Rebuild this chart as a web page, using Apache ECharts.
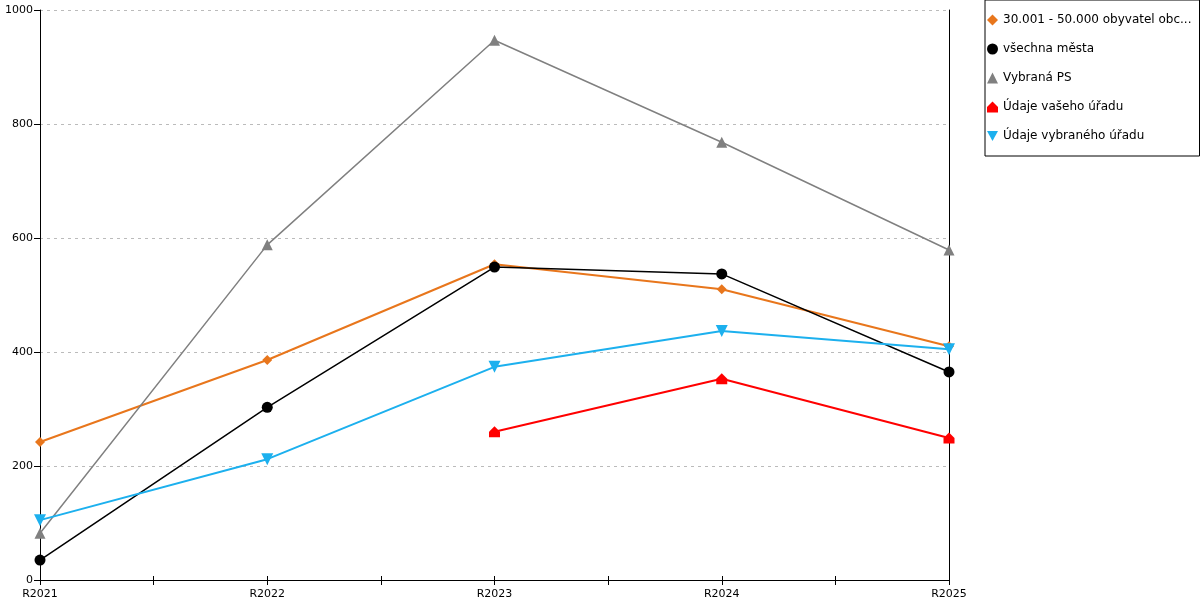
<!DOCTYPE html>
<html>
<head>
<meta charset="utf-8">
<script src="https://cdn.jsdelivr.net/npm/echarts@6/dist/echarts.min.js"></script>
<style>
  html, body { margin: 0; padding: 0; background: #fff; }
  #chart { width: 1200px; height: 600px; }
</style>
</head>
<body>
<div id="chart"></div>
<script>
// kategorie (roky)
var years = ['R2021', 'R2022', 'R2023', 'R2024', 'R2025'];

// hodnoty jednotlivych rad
var obceValues = [242, 386, 554, 510, 410];
var mestaValues = [35, 303, 549, 537, 365];
var vybranaPsValues = [82, 588, 947, 768, 579];
var vasUradValues = [null, null, 260, 353, 249];
var vybranyUradValues = [105, 212, 374, 437, 405];

var seriesNames = [
    '30.001 - 50.000 obyvatel obcí s rozšířenou působností',
    'všechna města',
    'Vybraná PS',
    'Údaje vašeho úřadu',
    'Údaje vybraného úřadu'
];

// pomocne znacky mezi roky (jen pro carky na ose)
var halfSteps = ['', '', '', '', '', '', '', '', ''];

var houseSymbol = 'path://M0,5 L5,0 L10,5 L10,10 L0,10 Z';
var downTriangle = 'path://M0,0 L10,0 L5,9 Z';
var symbols = ['diamond', 'circle', 'triangle', houseSymbol, downTriangle];

function makeSeries(name, data, color, symbol, size, width) {
    return {
        name: name,
        type: 'line',
        data: data,
        symbol: symbol,
        symbolSize: size,
        showAllSymbol: true,
        connectNulls: false,
        lineStyle: { color: color, width: width },
        itemStyle: { color: color },
        emphasis: { disabled: true }
    };
}

function tickAxis(inside, length) {
    return {
        type: 'category',
        data: halfSteps,
        boundaryGap: false,
        position: 'bottom',
        axisLine: { show: false },
        axisLabel: { show: false },
        axisTick: {
            show: true,
            inside: inside,
            length: length,
            interval: 0,
            lineStyle: { color: '#000' }
        },
        splitLine: { show: false }
    };
}

var chart = echarts.init(document.getElementById('chart'));

var option = {
    animation: false,
    textStyle: { fontFamily: 'DejaVu Sans' },
    grid: {
        left: 40,
        right: 251,
        top: 10,
        bottom: 20
    },
    legend: {
        orient: 'vertical',
        left: 985,
        top: 0,
        padding: [14, 8, 14, 2],
        itemWidth: 11,
        itemHeight: 11,
        itemGap: 17,
        itemTextGap: 5,
        borderColor: '#000',
        borderWidth: 1,
        borderRadius: 0,
        textStyle: {
            fontSize: 12,
            color: '#000',
            fontFamily: 'DejaVu Sans',
            width: 190,
            overflow: 'truncate',
            ellipsis: '...'
        },
        data: seriesNames.map(function (name, i) {
            return { name: name, icon: symbols[i] };
        })
    },
    xAxis: [
        {
            type: 'category',
            data: years,
            boundaryGap: false,
            axisLine: { lineStyle: { color: '#000', width: 1 } },
            axisTick: { show: false },
            axisLabel: { color: '#000', fontSize: 11, margin: 9 },
            splitLine: { show: false }
        },
        tickAxis(false, 5),
        tickAxis(true, 4)
    ],
    yAxis: [
        {
            type: 'value',
            min: 0,
            max: 1000,
            interval: 200,
            axisLine: { show: true, lineStyle: { color: '#000' } },
            axisTick: { show: true, length: 6, lineStyle: { color: '#000' } },
            axisLabel: {
                color: '#000',
                fontSize: 11,
                margin: 7,
                formatter: function (v) { return String(v); }
            },
            splitLine: {
                show: true,
                lineStyle: { color: '#bbb', type: [3, 4], width: 1 }
            }
        },
        {
            type: 'value',
            min: 0,
            max: 1000,
            interval: 200,
            position: 'right',
            axisLine: { show: true, lineStyle: { color: '#000' } },
            axisTick: { show: false },
            axisLabel: { show: false },
            splitLine: { show: false }
        }
    ],
    series: [
        makeSeries(seriesNames[0], obceValues, '#e8761c', 'diamond', 10, 2),
        makeSeries(seriesNames[1], mestaValues, '#000000', 'circle', 11, 1.5),
        makeSeries(seriesNames[2], vybranaPsValues, '#808080', 'triangle', 11, 1.5),
        makeSeries(seriesNames[3], vasUradValues, '#ff0000', houseSymbol, 11, 2),
        makeSeries(seriesNames[4], vybranyUradValues, '#1cb0ee', downTriangle, 12, 2)
    ]
};

option && chart.setOption(option);
</script>
</body>
</html>
